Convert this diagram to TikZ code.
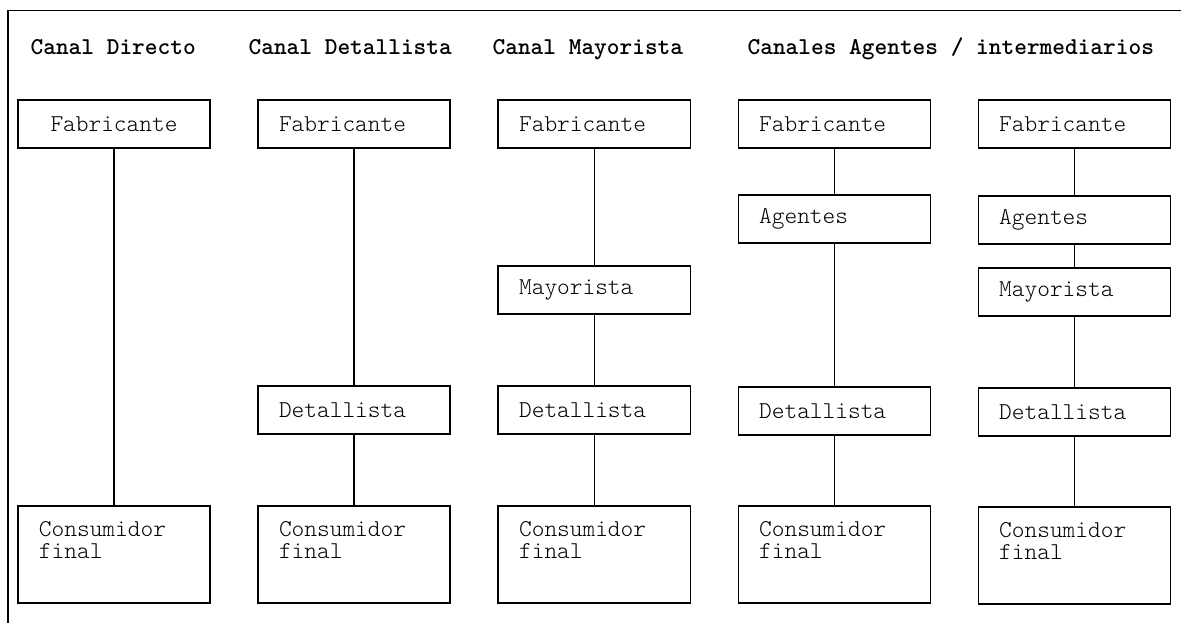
\documentclass[tikz,border=0pt]{standalone}
\usetikzlibrary{positioning}

\begin{document}
\begin{tikzpicture}[x=0.025cm,y=-0.025cm,node distance=6cm,line width=0.9pt,
  box/.style={draw,rectangle,minimum width=4.8cm,minimum height=1.2cm,inner xsep=0.525cm,inner ysep=0pt,text width=3.75cm,align=left,font=\ttfamily\fontseries{l}\fontsize{17.2pt}{15.7pt}\selectfont},
  tall/.style={box,minimum height=2.425cm},
  title/.style={anchor=base west,inner sep=0pt,font=\ttfamily\bfseries\fontsize{17.2pt}{15.7pt}\selectfont}]
  \useasboundingbox (0,0) rectangle (1181,623);
  \draw[line width=1.4pt] (8,623) -- (8,10.5) -- (1181,10.5);

  \node[title] (T1) at (30,55)  {Canal Directo};
  \node[title] (T2) at (248,55) {Canal Detallista};
  \node[title] (T3) at (492,55) {Canal Mayorista};
  \node[title] (T4) at (747,55) {Canales Agentes / intermediarios};

  \node[box,align=center] (F1) at (114,124) {Fabricante};
  \node[box]              (F2) [right of=F1] {Fabricante};
  \node[box]              (F3) [right of=F2] {Fabricante};
  \node[box]              (F4) [right of=F3] {Fabricante};
  \node[box]              (F5) [right of=F4] {Fabricante};

  \node[box]  (A4) at (F4 |- 0,219) {Agentes};
  \node[box]  (A5) at (F5 |- 0,220) {Agentes};
  \node[box]  (M3) at (F3 |- 0,290) {Mayorista};
  \node[box]  (M5) at (F5 |- 0,292) {Mayorista};
  \node[box]  (D2) at (F2 |- 0,410) {Detallista};
  \node[box]  (D3) at (F3 |- 0,410) {Detallista};
  \node[box]  (D4) at (F4 |- 0,411) {Detallista};
  \node[box]  (D5) at (F5 |- 0,412) {Detallista};

  \node[tall] (C1) at (F1 |- 0,554.5) {Consumidor\\final\\\strut};
  \node[tall] (C2) at (F2 |- 0,554.5) {Consumidor\\final\\\strut};
  \node[tall] (C3) at (F3 |- 0,554.5) {Consumidor\\final\\\strut};
  \node[tall] (C4) at (F4 |- 0,554.5) {Consumidor\\final\\\strut};
  \node[tall] (C5) at (F5 |- 0,555.5) {Consumidor\\final\\\strut};

  \path[draw] (F1) edge (C1)
              (F2) edge (D2)
              (D2) edge (C2)
              (F3) edge (M3)
              (M3) edge (D3)
              (D3) edge (C3)
              (F4) edge (A4)
              (A4) edge (D4)
              (D4) edge (C4)
              (F5) edge (A5)
              (A5) edge (M5)
              (M5) edge (D5)
              (D5) edge (C5);
\end{tikzpicture}
\end{document}
